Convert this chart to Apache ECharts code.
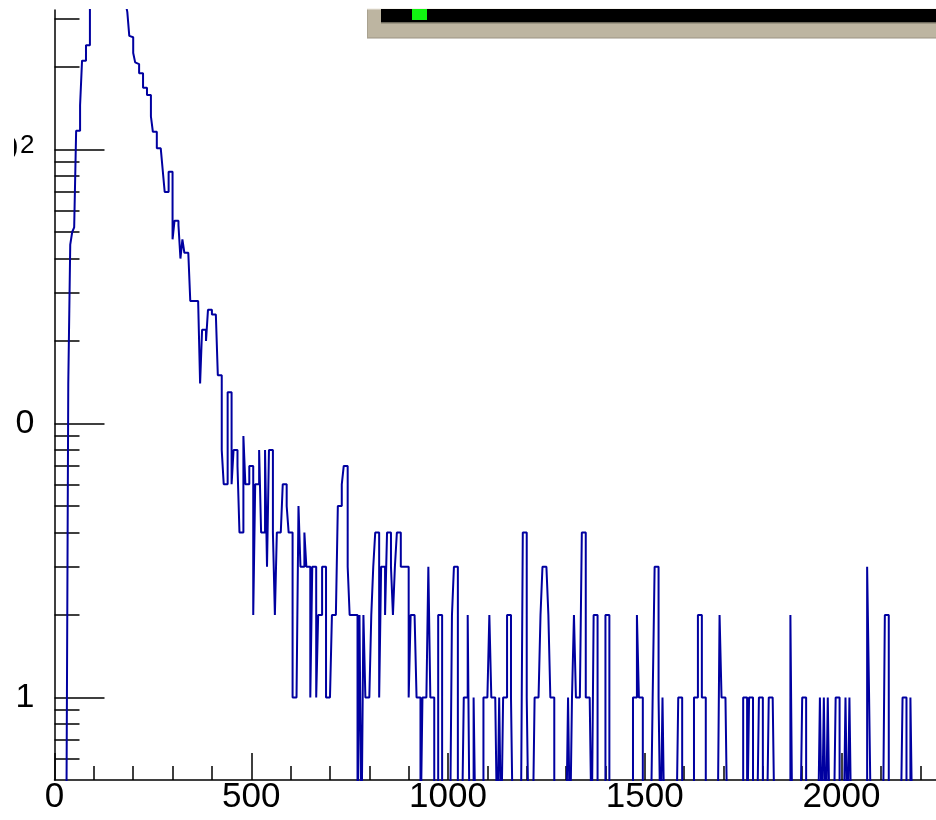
<!DOCTYPE html>
<html><head><meta charset="utf-8">
<script src="https://cdn.jsdelivr.net/npm/echarts@6/dist/echarts.min.js"></script>
<style>html,body{margin:0;padding:0;background:#fff}#c{width:936px;height:820px}</style>
</head><body><div id="c"></div>
<script>
// histogram: bins of width 5 starting at 0
const binWidth = 5;
const xMax = 2240;
const countsRise = [0,0,0,0,0,0,0,14,45,50,52,117,117,145,211,211,240,240];
const countsPeak = [420,520,610,690,740,770,790,780,760,720,680,630,580,530,480,440,400,370,345];
const countsFall = [318,260,257,225,208,205,190,190,168,168,158,158,132,116,116,101,101,101,84,70,70,83,83,47,55,55,53,40,47,42,42,42,28,28,28,28,28,14,22,22,20,26,26,25,25,25,15,15];
const countsMid = [
  8,6,6,13,13,6,8,8,7,4,
  4,9,6,6,7,7,2,6,6,8,
  4,4,8,3,8,8,4,2,4,4,
  4,6,6,5,4,4,1,1,1,5,
  3,3,4,3,3,1,3,3,1,2,
  2,3,3,1,1,1,2,2,2,5,
  5,6,7,7,3,2,2,2,2,0,
  2,0,2,1,1,1,2,3,4,4,
  1,3,3,2,4,4,3,2,3,4,
  4,3,3,3,3,1,2,2,2,1,
  1,0,1,1,1,3,1,1,0,0,
  2,2,0,0,0,0];
const countsTail = [
  0,2,3,3,0,0,0,1,1,2,
  0,0,1,0,0,0,0,1,1,1,
  2,1,1,1,0,1,0,1,1,2,
  2,1,0,0,0,0,0,4,4,1,
  0,0,0,1,1,1,2,3,3,3,
  2,1,1,0,0,0,0,0,0,0,
  1,0,1,2,1,1,1,4,4,1,
  1,1,0,2,2,0,0,0,0,2,
  2,0,0,0,0,0,0,0,0,0,
  0,0,0,1,1,2,1,1,0,0,
  0,0,0,1,3,3,1,0,1,0,
  0,0,0,0,0,0,1,1,0,0,
  0,0,0,0,1,1,2,2,1,1,
  0,0,0,0,0,0,0,2,1,1,
  1,0,0,0,0,0,0,0,0,1,
  1,0,1,1,0,0,0,1,1,0,
  0,0,1,1,1,0,0,0,0,0,
  0,0,0,2,0,0,0,0,0,1,
  1,0,0,0,0,0,0,0,1,0,
  1,0,1,0,0,0,1,1,0,0,
  0,1,0,1,0,0,0,0,0,0,
  0,0,3,1,0,0,0,0,0,0,
  0,2,2,0,0,0,0,0,0,0,
  1,1,0,0,1,0,0,0,0,0,
  0,0,0,0,0,0,0];
const xMajorTicks = [0,500,1000,1500,2000];
const xMinorTicks = [100,200,300,400,600,700,800,900,1100,1200,1300,1400,1600,1700,1800,1900,2100,2200];
const yMajorTicks = [1,10,100];
const yMinorTicks = [0.6,0.7,0.8,0.9,2,3,4,5,6,7,8,9,20,30,40,50,60,70,80,90,200,300];
const yMin = 0.5, yMax = 323;

const counts = [].concat(countsRise, countsPeak, countsFall, countsMid, countsTail);
const floorVal = 0.3; // empty bins fall below the frame bottom
const pts = counts.map((c, i) => [i * binWidth, c > 0 ? c : floorVal]);
pts.push([counts.length * binWidth, pts[pts.length - 1][1]]);

const font = 'Liberation Sans';
const blk = {color: '#000', width: 1.5};
const chart = echarts.init(document.getElementById('c'), null, {renderer: 'canvas'});
chart.setOption({
  animation: false,
  backgroundColor: '#fff',
  grid: {left: 54.5, top: 10, right: 0, bottom: 40, containLabel: false, outerBoundsMode: 'none'},
  xAxis: [
    {type: 'value', min: 0, max: xMax, position: 'bottom',
     axisLine: {show: true, onZero: false, lineStyle: blk},
     axisTick: {show: true, inside: true, length: 27, lineStyle: blk, customValues: xMajorTicks},
     axisLabel: {show: true, customValues: xMajorTicks, color: '#000', fontSize: 35, fontFamily: font, margin: 0,
       formatter: v => String(v)},
     splitLine: {show: false}},
    {type: 'value', min: 0, max: xMax, position: 'bottom',
     axisLine: {show: false, onZero: false},
     axisTick: {show: true, inside: true, length: 14, lineStyle: blk, customValues: xMinorTicks},
     axisLabel: {show: false}, splitLine: {show: false}}
  ],
  yAxis: [
    {type: 'log', logBase: 10, min: yMin, max: yMax, position: 'left',
     axisLine: {show: true, onZero: false, lineStyle: blk},
     axisTick: {show: true, inside: true, length: 50, lineStyle: blk, customValues: yMajorTicks},
     axisLabel: {show: true, customValues: yMajorTicks, color: '#000', fontSize: 34, fontFamily: font, margin: 20,
       formatter: function (v) {
         if (Math.abs(v - 1) < 1e-6) return '{b|1}';
         if (Math.abs(v - 10) < 1e-6) return '{b|10}';
         return '{b|10}{s|2}';
       },
       rich: {
         b: {fontSize: 34, fontFamily: font, color: '#000', lineHeight: 34},
         s: {fontSize: 26, fontFamily: font, color: '#000', lineHeight: 26, verticalAlign: 'top', padding: [0, 0, 0, 2]}
       }},
     splitLine: {show: false}},
    {type: 'log', logBase: 10, min: yMin, max: yMax, position: 'left',
     axisLine: {show: false, onZero: false},
     axisTick: {show: true, inside: true, length: 25, lineStyle: blk, customValues: yMinorTicks},
     axisLabel: {show: false}, splitLine: {show: false}}
  ],
  series: [{
    type: 'line', xAxisIndex: 0, yAxisIndex: 0, step: 'end', data: pts,
    symbol: 'none', showSymbol: false, clip: true,
    lineStyle: {color: '#0000a0', width: 2}, z: 2
  }],
  graphic: [
    // the reference is cropped: nothing shows left of x≈14
    {type: 'rect', shape: {x: 0, y: 0, width: 14, height: 780}, style: {fill: '#fff'}, z: 20},
    {type: 'rect', shape: {x: 367, y: 9, width: 580, height: 29}, style: {fill: '#bdb5a1'}, z: 10},
    {type: 'line', shape: {x1: 367, y1: 38, x2: 936, y2: 38}, style: {stroke: '#9b9483', lineWidth: 1.2}, z: 11},
    {type: 'line', shape: {x1: 367.5, y1: 9, x2: 367.5, y2: 38}, style: {stroke: '#a9a290', lineWidth: 1}, z: 11},
    {type: 'line', shape: {x1: 367, y1: 9, x2: 936, y2: 9}, style: {stroke: '#ece8df', lineWidth: 1}, z: 11},
    {type: 'rect', shape: {x: 381, y: 9, width: 560, height: 13.5}, style: {fill: '#000'}, z: 12},
    {type: 'line', shape: {x1: 381, y1: 23, x2: 936, y2: 23}, style: {stroke: '#7d7868', lineWidth: 1}, z: 12},
    {type: 'rect', shape: {x: 412, y: 9, width: 15, height: 11}, style: {fill: '#11f511'}, z: 13}
  ]
});
</script>
</body></html>
